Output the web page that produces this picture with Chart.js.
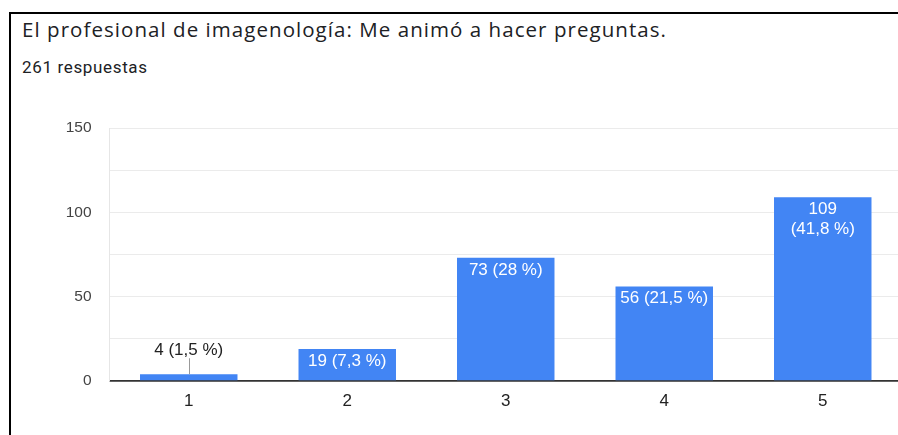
<!DOCTYPE html>
<html lang="es">
<head>
  <meta charset="UTF-8">
  <title>Me animó a hacer preguntas</title>
  <script src="https://cdn.jsdelivr.net/npm/chart.js"></script>
  <style>
    body { margin: 0; width: 898px; height: 435px; overflow: hidden; background: #fff; position: relative; }
    .frame { position: absolute; left: 9px; top: 12px; width: 900px; height: 430px;
             border-left: 2px solid #000; border-top: 2px solid #000; }
    .title { position: absolute; left: 22px; top: 15px; font: 20.5px "Open Sans", sans-serif; letter-spacing: 1.05px; color: #202124; }
    .sub { position: absolute; left: 22px; top: 57px; font: 17px Roboto, sans-serif; letter-spacing: 0.65px; color: #202124; }
    .wrap { position: absolute; left: 0; top: 100px; width: 902px; height: 335px; }
  </style>
</head>
<body>
  <div class="frame"></div>
  <div class="title">El profesional de imagenología: Me animó a hacer preguntas.</div>
  <div class="sub">261 respuestas</div>
  <div class="wrap"><canvas id="chart"></canvas></div>

  <script>
    // data
    const categories = ['1', '2', '3', '4', '5'];
    const counts = [4, 19, 73, 56, 109];
    const percentLabels = ['1,5 %', '7,3 %', '28 %', '21,5 %', '41,8 %'];
    const yTicks = [0, 50, 100, 150];

    const labelFont = '17px "Liberation Sans", Arial, sans-serif';

    // value labels on top of / inside the bars
    const barLabels = {
      id: 'barLabels',
      afterDatasetsDraw(chart) {
        const ctx = chart.ctx;
        const meta = chart.getDatasetMeta(0);
        ctx.save();
        ctx.font = labelFont;
        ctx.textAlign = 'center';
        ctx.textBaseline = 'middle';
        meta.data.forEach((bar, i) => {
          const text = counts[i] + ' (' + percentLabels[i] + ')';
          const h = bar.base - bar.y;
          if (h < 24) {
            ctx.strokeStyle = '#999';
            ctx.lineWidth = 1;
            ctx.beginPath();
            ctx.moveTo(Math.round(bar.x) + 0.5, bar.y - 16);
            ctx.lineTo(Math.round(bar.x) + 0.5, bar.y);
            ctx.stroke();
            ctx.fillStyle = '#222';
            ctx.fillText(text, bar.x, bar.y - 24);
          } else {
            ctx.fillStyle = '#fff';
            let lines = [text];
            if (ctx.measureText(text).width > bar.width - 2) {
              lines = [String(counts[i]), '(' + percentLabels[i] + ')'];
            }
            lines.forEach((l, k) => ctx.fillText(l, bar.x, bar.y + 12 + k * 20));
          }
        });
        ctx.restore();
      }
    };

    new Chart(document.getElementById('chart'), {
      type: 'bar',
      data: {
        labels: categories,
        datasets: [{
          data: counts,
          backgroundColor: '#4285f4',
          categoryPercentage: 1,
          barPercentage: 0.615
        }]
      },
      options: {
        responsive: true,
        maintainAspectRatio: false,
        animation: false,
        layout: { padding: { top: 28, left: 0, right: 0, bottom: 0 } },
        plugins: { legend: { display: false }, tooltip: { enabled: false } },
        scales: {
          x: {
            grid: { display: false, drawTicks: false },
            border: { color: '#333', width: 1.5 },
            ticks: { color: '#222', padding: 10, font: { family: '"Liberation Sans", Arial, sans-serif', size: 17 } },
            afterFit: s => { s.height = 54; }
          },
          y: {
            min: 0,
            max: 150,
            afterBuildTicks: s => { s.ticks = yTicks.concat([25, 75, 125]).sort((a, b) => a - b).map(v => ({ value: v })); },
            grid: {
              drawTicks: false,
              color: c => c.tick.value === 0 ? '#333' : '#ebebeb',
              lineWidth: c => c.tick.value === 0 ? 1.5 : 1
            },
            border: { color: '#e6e6e6' },
            ticks: {
              color: '#444',
              padding: 18,
              font: { family: '"Liberation Sans", Arial, sans-serif', size: 15.5 },
              callback: v => yTicks.includes(v) ? v : ''
            },
            afterFit: s => { s.width = 109.5; }
          }
        }
      },
      plugins: [barLabels]
    });
  </script>
</body>
</html>
